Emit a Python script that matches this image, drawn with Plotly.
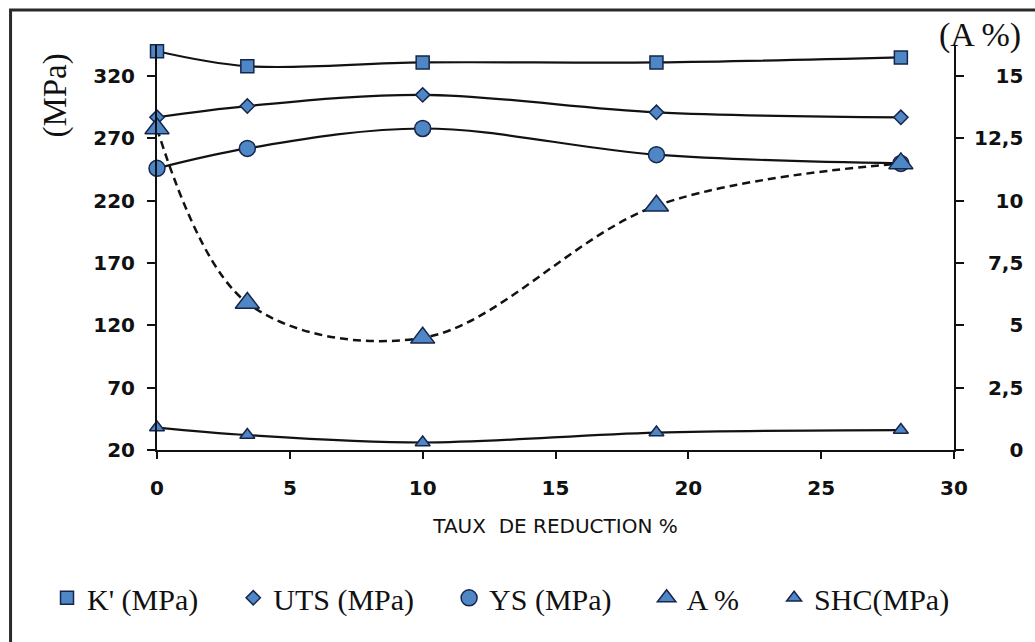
import plotly.graph_objects as go

# Reduction rate (%) and measured properties
reduction = [0, 3.4, 10, 18.8, 28]
k_prime = [340, 328, 331, 331, 335]      # K' (MPa)
uts = [287, 296, 305, 291, 287]          # UTS (MPa)
ys = [246, 262, 278, 257, 250]           # YS (MPa)
elong = [12.9, 5.9, 4.5, 9.8, 11.5]      # A %
shc = [38, 32, 26, 34, 36]               # SHC (MPa)

left_ticks = [20, 70, 120, 170, 220, 270, 320]
right_ticks = [0, 2.5, 5, 7.5, 10, 12.5, 15]
right_labels = ["0", "2,5", "5", "7,5", "10", "12,5", "15"]
# pad so the right-hand labels line up on their right edge
FS, PS = "\u2007", "\u2008"
right_pad = {"0": FS + FS + PS, "5": FS + FS + PS, "2,5": FS, "7,5": FS,
             "10": FS + PS, "15": FS + PS, "12,5": ""}
right_text = [right_pad[t] + t for t in right_labels]

FILL = "#4F86C6"
EDGE = "#16264a"
LINE = "#121212"
GAP = "\u00a0" * 4   # extra room between legend entries

series = [
    ("K' (MPa)", k_prime, "y", "square", 13, "solid"),
    ("UTS (MPa)", uts, "y", "diamond", 11, "solid"),
    ("YS (MPa)", ys, "y", "circle", 16, "solid"),
    ("A %", elong, "y2", "triangle-up", 21, "8px,5px"),
    ("SHC(MPa)", shc, "y", "triangle-up", 13, "solid"),
]

fig = go.Figure()
for name, vals, axis, symbol, size, dash in series:
    fig.add_trace(go.Scatter(
        x=reduction, y=vals, yaxis=axis, mode="lines",
        line=dict(color=LINE, width=2.5 if dash != "solid" else 2.2, dash=dash, shape="spline"),
        showlegend=False, hoverinfo="skip", cliponaxis=False,
    ))
for name, vals, axis, symbol, size, dash in series:
    fig.add_trace(go.Scatter(
        x=reduction, y=vals, yaxis=axis, mode="markers",
        name=name if name == "SHC(MPa)" else name + GAP,
        marker=dict(symbol=symbol, size=size, color=FILL,
                    line=dict(color=EDGE, width=1.5)),
        cliponaxis=False,
    ))

tick_font = dict(size=20, family="DejaVu Sans", color="#111", weight="bold")

fig.update_layout(
    width=1035, height=642,
    margin=dict(l=157, r=78, t=45, b=192),
    paper_bgcolor="white", plot_bgcolor="white",
    font=dict(family="DejaVu Sans", color="#111111"),
    xaxis=dict(
        range=[0, 30], tickvals=[0, 5, 10, 15, 20, 25, 30],
        showline=True, linecolor="#111", linewidth=2, mirror=False,
        ticks="outside", ticklen=7, tickwidth=2, tickcolor="#111",
        showgrid=False, zeroline=False, ticklabelstandoff=12,
        tickfont=tick_font,
        title=dict(text="TAUX  DE REDUCTION %", standoff=20,
                   font=dict(size=20, family="DejaVu Sans", color="#111")),
    ),
    yaxis=dict(
        range=[20, 345], tickvals=left_ticks,
        showline=True, linecolor="#111", linewidth=2,
        ticks="outside", ticklen=8, tickwidth=2, tickcolor="#111",
        showgrid=False, zeroline=False, ticklabelstandoff=8,
        tickfont=tick_font,
    ),
    yaxis2=dict(
        range=[0, 16.25], overlaying="y", side="right",
        tickvals=right_ticks, ticktext=right_text,
        showline=True, linecolor="#111", linewidth=2,
        ticks="outside", ticklen=8, tickwidth=2, tickcolor="#111",
        showgrid=False, zeroline=False, ticklabelstandoff=6,
        tickfont=tick_font,
    ),
    legend=dict(
        orientation="h", x=-0.138, y=-0.365, xanchor="left", yanchor="middle",
        font=dict(family="Liberation Serif", size=30, color="#111"),
        itemwidth=30, bgcolor="rgba(0,0,0,0)",
    ),
    annotations=[
        dict(text="(MPa)", x=-0.1275, y=0.876, xref="paper", yref="paper",
             xanchor="center", yanchor="middle",
             textangle=-90, showarrow=False,
             font=dict(family="Liberation Serif", size=33, color="#111")),
        dict(text="(A %)", x=1.0325, y=1.025, xref="paper", yref="paper",
             xanchor="center", yanchor="middle", showarrow=False,
             font=dict(family="Liberation Serif", size=34, color="#111")),
    ],
    shapes=[
        dict(type="rect", xref="paper", yref="paper",
             x0=-0.18375, x1=1.3, y0=-0.7, y1=1.0864,
             line=dict(color="#2a2a2a", width=3), layer="below"),
    ],
)

fig.write_html("out.html")
